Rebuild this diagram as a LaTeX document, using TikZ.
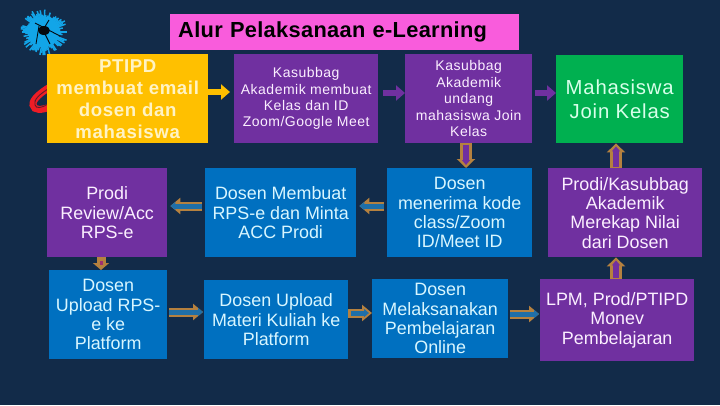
\documentclass[tikz,border=0pt]{standalone}
\usepackage{fontspec}
\setmainfont{Liberation Sans}
\newfontfamily\lsa[LetterSpace=1.5]{Liberation Sans}
\newfontfamily\lsc[LetterSpace=3.5]{Liberation Sans}
\newfontfamily\lsb[LetterSpace=4]{Liberation Sans}
\usetikzlibrary{arrows.meta}
\definecolor{bgc}{HTML}{122B49}
\definecolor{pinkc}{HTML}{F95CDC}
\definecolor{goldc}{HTML}{FFC000}
\definecolor{purc}{HTML}{7030A0}
\definecolor{bluc}{HTML}{0070C0}
\definecolor{grnc}{HTML}{00B050}
\definecolor{brnc}{HTML}{B5813F}
\definecolor{redc}{HTML}{EE1C25}
\definecolor{skyc}{HTML}{12A5E8}
\definecolor{txtb}{HTML}{D8F6FF}
\definecolor{txty}{HTML}{FFF3C4}
\definecolor{txtg}{HTML}{D8FFEA}
\definecolor{txtp}{HTML}{FBEFFF}
\definecolor{inblue}{HTML}{1F6FA8}
\definecolor{inred}{HTML}{A03070}
\tikzset{x=1pt,y=-1pt,
 boxbase/.style={align=center,inner sep=0pt,anchor=north west},
 goldbox/.style={boxbase,fill=goldc,text=txty,font=\lsc\bfseries\fontsize{18.6}{22}\selectfont},
 purbox/.style={boxbase,fill=purc,text=txtp},
 blubox/.style={boxbase,fill=bluc,text=txtb},
 grnbox/.style={boxbase,fill=grnc,text=txtg,font=\lsb\fontsize{20.3}{24}\selectfont},
 thinfont/.style={font=\lsc\fontsize{14}{16.4}\selectfont},
 midfont/.style={font=\fontsize{17.9}{19.4}\selectfont},
 solidarr/.style={line width=6pt,-{Triangle[length=9pt,width=15pt]}},
 outarr/.style={brnc,line width=9pt,-{Triangle[length=10pt,width=16pt]}},
 inarr/.style={line width=5pt,-{Triangle[length=5pt,width=8pt]},shorten <=2.5pt,shorten >=3pt},
 voutarr/.style={brnc,line width=12pt,-{Triangle[length=9pt,width=18pt]}},
 vinarr/.style={line width=6pt,-{Triangle[length=5pt,width=8pt]},shorten <=1.5pt,shorten >=3pt},
}
\newcommand{\bx}[7]{\node[#6,minimum width=#3pt-#1pt,minimum height=#4pt-#2pt] (#5) at (#1,#2) {#7};}
\newcommand{\oarrow}[4][]{\draw[outarr,#1] #3 -- #4; \draw[inarr,#2,#1] #3 -- #4;}
\newcommand{\varrow}[3]{\draw[voutarr] #2 -- #3; \draw[vinarr,#1] #2 -- #3;}
\begin{document}
\begin{tikzpicture}
\useasboundingbox (0,0) rectangle (720,405);
\fill[bgc] (0,0) rectangle (720,405);
% flower
\pgfmathsetseed{7}
\fill[skyc] (44,32) circle (15pt);
\foreach \a in {0,4,...,356}{
  \pgfmathsetmacro{\r}{15+9*rnd}
  \draw[skyc,line width=1.5pt] (44,32) -- ++(\a:\r pt);
}
\fill[black!80!bgc] (44,30.5) ellipse (6pt and 4.5pt);
\draw[black!80!bgc,line width=0.9pt] (35,23)--(60,36) (39,26)--(36,44) (43,30)--(50,44) (43,30)--(49,20);
% red loop
\draw[redc,line width=7pt,line cap=round] (50,87) .. controls (40,93) and (32,100) .. (33,105) .. controls (34,111) and (42,110) .. (50,107);
\draw[black!40!redc!60!bgc,line width=0.9pt] (48,89) .. controls (40,94) and (33,100) .. (35,105) .. controls (36,109) and (42,108) .. (48,104);
% title
\node[boxbase,fill=pinkc,text=black,minimum width=349pt,minimum height=36pt,text width=349pt-16pt,align=left,font=\lsa\bfseries\fontsize{21.8}{24}\selectfont] (title) at (170,14) {Alur Pelaksanaan e-Learning};
% boxes
\bx{47}{54}{208}{143}{ptipd}{goldbox}{PTIPD\\membuat email\\dosen dan\\mahasiswa}
\bx{234}{54}{378}{143}{kas}{purbox,thinfont}{Kasubbag\\Akademik membuat\\Kelas dan ID\\Zoom/Google Meet}
\bx{405}{54}{532}{143}{undang}{purbox,thinfont}{Kasubbag\\Akademik\\undang\\mahasiswa Join\\Kelas}
\bx{556}{55}{683}{143}{join}{grnbox}{Mahasiswa\\Join Kelas}
\bx{47}{168}{167}{257}{review}{purbox,midfont}{Prodi\\Review/Acc\\RPS-e}
\bx{205}{168}{356}{257}{rps}{blubox,midfont}{Dosen Membuat\\RPS-e dan Minta\\ACC Prodi}
\bx{387}{168}{532}{257}{kode}{blubox,midfont}{Dosen\\menerima kode\\class/Zoom\\ID/Meet ID}
\bx{548}{168}{702}{257}{rekap}{purbox,midfont}{Prodi/Kasubbag\\Akademik\\Merekap Nilai\\dari Dosen}
\bx{49}{270}{167}{359}{uprps}{blubox,midfont}{Dosen\\Upload RPS-\\e ke\\Platform}
\bx{204}{280}{348}{359}{materi}{blubox,midfont}{Dosen Upload\\Materi Kuliah ke\\Platform}
\bx{372}{279}{508}{358}{online}{blubox,midfont}{Dosen\\Melaksanakan\\Pembelajaran\\Online}
\bx{540}{279}{694}{361}{monev}{purbox,midfont}{LPM, Prod/PTIPD\\Monev\\Pembelajaran}
% solid arrows
\draw[solidarr,goldc,shorten >=4pt] (ptipd.east |- 0,92) -- (kas.west |- 0,92);
\draw[solidarr,purc,shorten <=5pt] (kas.east |- 0,93) -- (undang.west |- 0,93);
\draw[solidarr,purc,shorten <=3pt] (undang.east |- 0,93) -- (join.west |- 0,93);
% outlined arrows
\varrow{purc}{(466,0 |- undang.south)}{(466,0 |- kode.north)}
\oarrow[shorten <=3pt,shorten >=3pt]{inblue}{(kode.west |- 0,206)}{(rps.east |- 0,206)}
\oarrow[shorten <=3pt,shorten >=3pt]{inblue}{(rps.west |- 0,206)}{(review.east |- 0,206)}
\oarrow[shorten <=2pt,shorten >=1pt]{inblue}{(uprps.east |- 0,312)}{(materi.west |- 0,312)}
\oarrow{inblue}{(materi.east |- 0,313)}{(online.west |- 0,313)}
\oarrow[shorten <=2pt,shorten >=1pt]{inblue}{(online.east |- 0,314)}{(monev.west |- 0,314)}
\coordinate (xa) at (616,0);
\coordinate (xb) at (466,0);
\coordinate (xc) at (101,0);
\varrow{purc}{(xa |- rekap.north)}{(xa |- join.south)}
\varrow{purc}{(xa |- monev.north)}{(xa |- rekap.south)}
\draw[brnc,line width=9pt,-{Triangle[length=7pt,width=16pt]}] (xc |- review.south) -- (xc |- uprps.north);
\fill[inred] (99.5,261) rectangle (102.5,265);
\end{tikzpicture}
\end{document}
